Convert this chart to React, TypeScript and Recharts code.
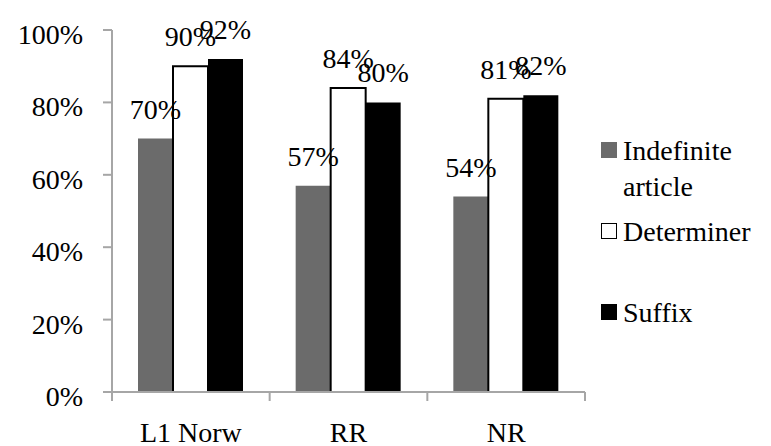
import { Bar, BarChart, LabelList, Legend, XAxis, YAxis } from 'recharts'

const groups = ['L1 Norw', 'RR', 'NR']
const indefiniteArticle = [70, 57, 54]
const determiner = [90, 84, 81]
const suffix = [92, 80, 82]
const yTicks = [0, 20, 40, 60, 80, 100]

const FONT = "'Liberation Serif', 'DejaVu Serif', serif"
const FONT_SIZE = 28
const AXIS_GREY = '#a6a6a6'

const series = [
  { key: 'indefinite', name: 'Indefinite article', fill: '#6b6b6b', stroke: 'none' },
  { key: 'determiner', name: 'Determiner', fill: '#ffffff', stroke: '#000000' },
  { key: 'suffix', name: 'Suffix', fill: '#000000', stroke: 'none' },
]

const data = groups.map((group, i) => ({
  group,
  indefinite: indefiniteArticle[i],
  determiner: determiner[i],
  suffix: suffix[i],
}))

const fmtPct = (value: number | string): string => `${value}%`

const X_TICK_SIZE = 9
const X_TICK_MARGIN = 21

// Excel-style category axis: tick marks sit on the group boundaries, labels in the middle.
function GroupTick(props: any) {
  const { x, y, payload, index } = props
  const half = payload.offset ?? 0
  const top = y - X_TICK_MARGIN - X_TICK_SIZE
  const isLast = index === groups.length - 1
  return (
    <g>
      <line x1={x - half} x2={x - half} y1={top} y2={top + X_TICK_SIZE} stroke={AXIS_GREY} strokeWidth={2} />
      {isLast && (
        <line x1={x + half} x2={x + half} y1={top} y2={top + X_TICK_SIZE} stroke={AXIS_GREY} strokeWidth={2} />
      )}
      <text x={x} y={y} dy="0.71em" textAnchor="middle" fill="#000" fontSize={FONT_SIZE} style={{ fontFamily: FONT }}>
        {payload.value}
      </text>
    </g>
  )
}

function SideLegend() {
  return (
    <div style={{ fontFamily: FONT, fontSize: FONT_SIZE, lineHeight: '36px', color: '#000' }}>
      {series.map((s) => (
        <div key={s.key} style={{ display: 'flex', alignItems: 'flex-start', height: 81 }}>
          <span
            style={{
              width: s.stroke === 'none' ? 16 : 14,
              height: s.stroke === 'none' ? 16 : 14,
              marginTop: 9,
              marginRight: 6,
              background: s.fill,
              border: s.stroke === 'none' ? 'none' : `1px solid ${s.stroke}`,
              flexShrink: 0,
            }}
          />
          <span style={{ width: 145 }}>{s.name}</span>
        </div>
      ))}
    </div>
  )
}

export default function App() {
  return (
    <div style={{ position: 'absolute', left: 0, top: 0, background: '#fff', fontFamily: FONT }}>
      <BarChart
        width={771}
        height={446}
        data={data}
        margin={{ top: 30, right: 186, bottom: 0, left: 0 }}
        barCategoryGap={26}
        barGap={0}
        style={{ fontFamily: FONT }}
      >
        <XAxis
          dataKey="group"
          height={54}
          tickLine={false}
          tickSize={X_TICK_SIZE}
          tickMargin={X_TICK_MARGIN}
          axisLine={{ stroke: AXIS_GREY, strokeWidth: 2 }}
          tick={<GroupTick />}
          interval={0}
        />
        <YAxis
          domain={[0, 100]}
          ticks={yTicks}
          interval={0}
          tickFormatter={fmtPct}
          width={112}
          tickSize={9}
          tickMargin={20}
          axisLine={{ stroke: AXIS_GREY, strokeWidth: 2 }}
          tickLine={{ stroke: AXIS_GREY, strokeWidth: 2 }}
          tick={{ fill: '#000', fontSize: FONT_SIZE, fontFamily: FONT, dy: 4 }}
        />
        <Legend
          layout="vertical"
          align="center"
          verticalAlign="middle"
          wrapperStyle={{ left: 601, top: 133, width: 170 }}
          content={() => <SideLegend />}
        />
        {series.map((s) => (
          <Bar
            key={s.key}
            dataKey={s.key}
            name={s.name}
            fill={s.fill}
            stroke={s.stroke}
            strokeWidth={s.stroke === 'none' ? 0 : 2}
            isAnimationActive={false}
          >
            <LabelList
              dataKey={s.key}
              position="top"
              offset={20}
              formatter={fmtPct}
              fill="#000"
              fontSize={FONT_SIZE}
              fontFamily={FONT}
            />
          </Bar>
        ))}
      </BarChart>
    </div>
  )
}
